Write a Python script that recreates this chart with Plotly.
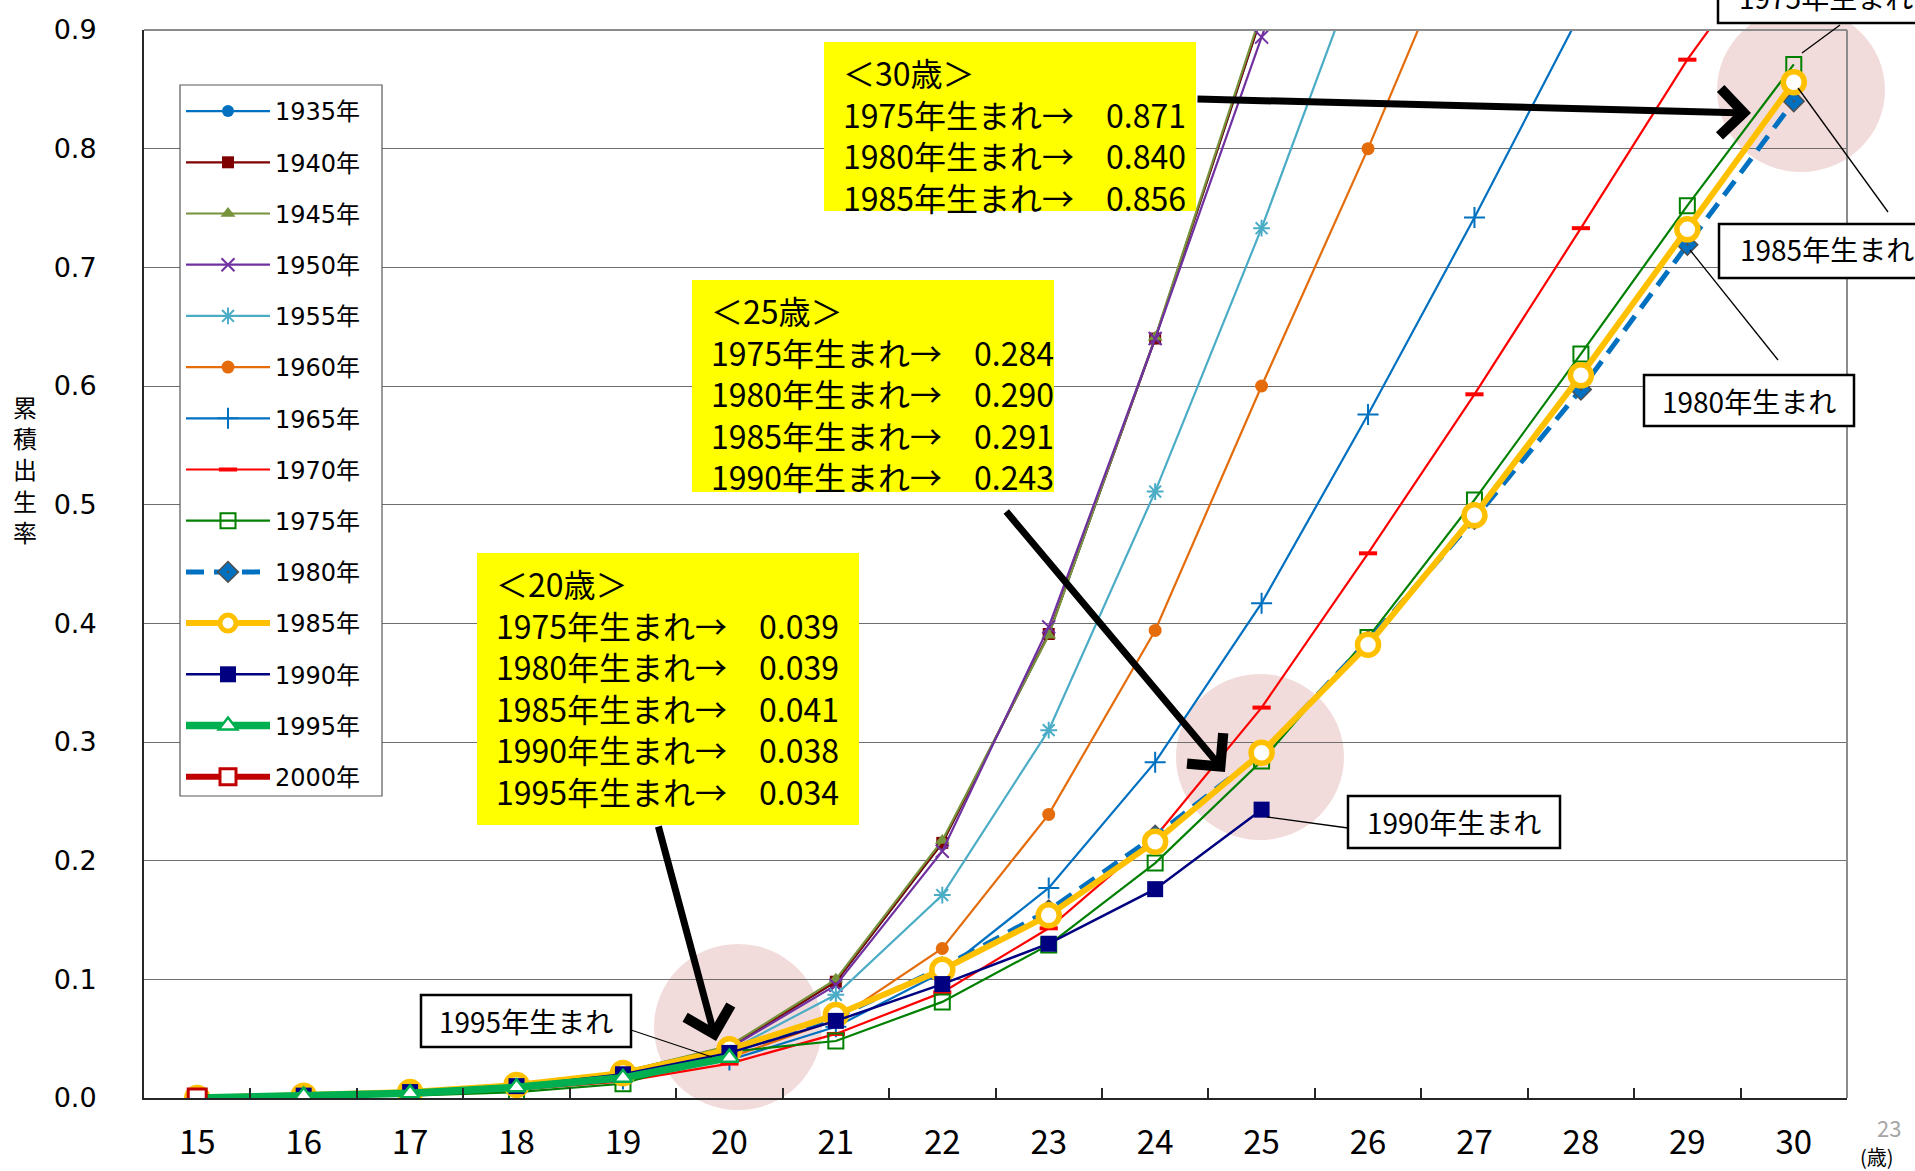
import plotly.graph_objects as go

# ---- data -------------------------------------------------------------
ages = list(range(15, 31))
age_labels = [str(a) for a in ages]
y_ticks = [0.0, 0.1, 0.2, 0.3, 0.4, 0.5, 0.6, 0.7, 0.8, 0.9]

# cumulative birth rate by birth cohort, from age 15 upward
# (points above 0.9 only steer the segment that leaves the plot)
r1935 = [0.000, 0.001, 0.004, 0.010, 0.022, 0.043, 0.098, 0.215, 0.391, 0.640, 0.912, 1.150]
r1940 = [0.000, 0.001, 0.004, 0.010, 0.022, 0.043, 0.098, 0.215, 0.391, 0.640, 0.912, 1.150]
r1945 = [0.000, 0.001, 0.004, 0.010, 0.022, 0.044, 0.100, 0.217, 0.390, 0.641, 0.915, 1.160]
r1950 = [0.000, 0.001, 0.004, 0.010, 0.021, 0.042, 0.095, 0.208, 0.397, 0.640, 0.894, 1.140]
r1955 = [0.000, 0.001, 0.004, 0.009, 0.020, 0.040, 0.087, 0.171, 0.310, 0.511, 0.733, 0.975]
r1960 = [0.000, 0.001, 0.003, 0.008, 0.017, 0.034, 0.066, 0.126, 0.239, 0.394, 0.600, 0.800, 1.013]
r1965 = [0.000, 0.001, 0.003, 0.007, 0.016, 0.032, 0.060, 0.106, 0.177, 0.283, 0.417, 0.576, 0.742, 0.915]
r1970 = [0.000, 0.001, 0.003, 0.007, 0.014, 0.029, 0.054, 0.089, 0.143, 0.220, 0.329, 0.459, 0.593, 0.733, 0.875, 0.999]
r1975 = [0.000, 0.001, 0.002, 0.005, 0.012, 0.039, 0.048, 0.081, 0.129, 0.198, 0.284, 0.388, 0.504, 0.627, 0.752, 0.871]
r1980 = [0.000, 0.001, 0.004, 0.009, 0.019, 0.039, 0.068, 0.110, 0.158, 0.221, 0.290, 0.385, 0.488, 0.597, 0.719, 0.840]
r1985 = [0.000, 0.002, 0.005, 0.011, 0.021, 0.041, 0.070, 0.108, 0.154, 0.216, 0.291, 0.382, 0.491, 0.609, 0.732, 0.856]
r1990 = [0.000, 0.002, 0.005, 0.010, 0.020, 0.038, 0.065, 0.096, 0.130, 0.176, 0.243]
r1995 = [0.000, 0.002, 0.004, 0.009, 0.017, 0.034]
r2000 = [0.000]

cohorts = {
    1935: r1935, 1940: r1940, 1945: r1945, 1950: r1950, 1955: r1955,
    1960: r1960, 1965: r1965, 1970: r1970, 1975: r1975, 1980: r1980,
    1985: r1985, 1990: r1990, 1995: r1995, 2000: r2000,
}

# ---- styles -----------------------------------------------------------
styles = {
    1935: dict(line=dict(color="#0070C0", width=2.2), marker=dict(symbol="circle", size=12, color="#0070C0")),
    1940: dict(line=dict(color="#7F0000", width=2.2), marker=dict(symbol="square", size=12, color="#7F0000")),
    1945: dict(line=dict(color="#77933C", width=2.2), marker=dict(symbol="triangle-up", size=13, color="#77933C")),
    1950: dict(line=dict(color="#7030A0", width=2.2), marker=dict(symbol="x-thin-open", size=13, color="#7030A0", line=dict(color="#7030A0", width=2))),
    1955: dict(line=dict(color="#4BACC6", width=2.2), marker=dict(symbol="asterisk-open", size=14, color="#4BACC6", line=dict(color="#4BACC6", width=2))),
    1960: dict(line=dict(color="#E46C0A", width=2.2), marker=dict(symbol="circle", size=13, color="#E46C0A")),
    1965: dict(line=dict(color="#0070C0", width=2.2), marker=dict(symbol="cross-thin-open", size=15, color="#0070C0", line=dict(color="#0070C0", width=2))),
    1970: dict(line=dict(color="#FF0000", width=2.2), marker=dict(symbol="line-ew-open", size=13, color="#FF0000", line=dict(color="#FF0000", width=4))),
    1975: dict(line=dict(color="#008000", width=2.2), marker=dict(symbol="square-open", size=15, color="#008000", line=dict(color="#008000", width=2))),
    1980: dict(line=dict(color="#0070C0", width=5, dash="18px,10px"), marker=dict(symbol="diamond-dot", size=16, color="#0070C0", line=dict(color="#505050", width=1.5))),
    1985: dict(line=dict(color="#FFC000", width=6), marker=dict(symbol="circle", size=21, color="#FFFFFF", line=dict(color="#FFC000", width=5.5))),
    1990: dict(line=dict(color="#000080", width=2.5), marker=dict(symbol="square", size=16, color="#000080")),
    1995: dict(line=dict(color="#00B050", width=7.5), marker=dict(symbol="triangle-up", size=16, color="#FFFFFF", line=dict(color="#00B050", width=2.5))),
    2000: dict(line=dict(color="#C00000", width=6), marker=dict(symbol="square", size=18, color="#FFFFFF", line=dict(color="#C00000", width=3))),
}

WIDE = "DejaVu Sans, Noto Sans CJK JP, sans-serif"
CJK = "Noto Sans CJK JP, sans-serif"

W, H = 1915, 1171
ML, MT, MR, MB = 144, 30, 68, 73
PW, PH = W - ML - MR, H - MT - MB


def px(x):
    return (x - ML) / PW


def py(y):
    return (MT + PH - y) / PH


fig = go.Figure()
for year, vals in cohorts.items():
    st = styles[year]
    fig.add_trace(go.Scatter(
        x=ages[:len(vals)], y=vals, mode="lines+markers",
        name=f"{year}年", legendgroup=str(year),
        line=st["line"], marker=st["marker"],
    ))


def rate(year, age):
    return cohorts[year][ages.index(age)]


def box_text(age, years):
    rows = [f"＜{age}歳＞"]
    rows += [f"{y}年生まれ→　{rate(y, age):.3f}" for y in years]
    return "<br>".join(rows)


shapes = []
annotations = []

# highlight circles around the compared ages
for (cx, cy, rx, ry) in [(738, 1027, 84, 83), (1260, 757, 84, 83), (1801, 90, 84, 82)]:
    shapes.append(dict(type="circle", xref="paper", yref="paper",
                       x0=px(cx - rx), x1=px(cx + rx), y0=py(cy + ry), y1=py(cy - ry),
                       fillcolor="#F2DCDB", line=dict(width=0), layer="below"))

# frame on the top and right side
shapes.append(dict(type="line", xref="paper", yref="paper", x0=0, x1=1, y0=1, y1=1,
                   line=dict(color="#8C8C8C", width=2), layer="above"))
shapes.append(dict(type="line", xref="paper", yref="paper", x0=1, x1=1, y0=0, y1=1,
                   line=dict(color="#8C8C8C", width=2), layer="above"))

# legend frame
shapes.append(dict(type="rect", xref="paper", yref="paper",
                   x0=px(180), x1=px(382), y0=py(796), y1=py(85),
                   fillcolor="#FFFFFF", line=dict(color="#595959", width=1.2), layer="above"))

# yellow summary boxes
yellow_boxes = [
    ((824, 42, 1196, 211), 30, [1975, 1980, 1985]),
    ((692, 280, 1054, 492), 25, [1975, 1980, 1985, 1990]),
    ((477, 553, 859, 825), 20, [1975, 1980, 1985, 1990, 1995]),
]
for (x0, y0, x1, y1), age, years in yellow_boxes:
    shapes.append(dict(type="rect", xref="paper", yref="paper",
                       x0=px(x0), x1=px(x1), y0=py(y1), y1=py(y0),
                       fillcolor="#FFFF00", line=dict(width=0), layer="above"))
    annotations.append(dict(xref="paper", yref="paper", x=px(x0 + 17), y=py(y0 + 5),
                            xanchor="left", yanchor="top", align="left", showarrow=False,
                            text=box_text(age, years),
                            font=dict(family=CJK, size=32, color="#000000")))

# thick arrows from the summary boxes
for (tx, ty, hx, hy) in [(1196, 99, 1751, 113), (1005, 510, 1225, 772), (658, 825, 716, 1041)]:
    annotations.append(dict(xref="paper", yref="paper", x=px(hx), y=py(hy),
                            ax=tx - hx, ay=ty - hy, axref="pixel", ayref="pixel",
                            showarrow=True, arrowhead=4, arrowsize=1.3, arrowwidth=7,
                            arrowcolor="#000000", text=""))

# cohort callouts
callouts = [
    ("1995年生まれ", (421, 995, 631, 1047), (631, 1030, 712, 1057)),
    ("1990年生まれ", (1348, 796, 1560, 848), (1348, 828, 1267, 817)),
    ("1980年生まれ", (1644, 375, 1854, 426), (1778, 360, 1690, 250)),
    ("1985年生まれ", (1719, 224, 1940, 278), (1888, 212, 1798, 88)),
    ("1975年生まれ", (1718, -40, 1940, 23), (1840, 25, 1802, 53)),
]
for label, (x0, y0, x1, y1), (lx0, ly0, lx1, ly1) in callouts:
    shapes.append(dict(type="line", xref="paper", yref="paper",
                       x0=px(lx0), y0=py(ly0), x1=px(lx1), y1=py(ly1),
                       line=dict(color="#000000", width=1.3), layer="above"))
    shapes.append(dict(type="rect", xref="paper", yref="paper",
                       x0=px(x0), x1=px(x1), y0=py(y1), y1=py(y0),
                       fillcolor="#FFFFFF", line=dict(color="#000000", width=2.5), layer="above"))
    if x1 > W:
        annotations.append(dict(xref="paper", yref="paper", x=px(x0 + 19), y=py((max(y0, -25) + y1) / 2 - 2),
                                xanchor="left", yanchor="middle", showarrow=False, text=label,
                                font=dict(family=CJK, size=28, color="#000000")))
    else:
        annotations.append(dict(xref="paper", yref="paper", x=px((x0 + x1) / 2), y=py((y0 + y1) / 2),
                                xanchor="center", yanchor="middle", showarrow=False, text=label,
                                font=dict(family=CJK, size=28, color="#000000")))

# vertical y-axis title, stacked characters
annotations.append(dict(xref="paper", yref="paper", x=px(25), y=py(469),
                        xanchor="center", yanchor="middle", showarrow=False,
                        text="<br>".join("累積出生率"),
                        font=dict(family=CJK, size=24, color="#000000")))

# unit label and page number
annotations.append(dict(xref="paper", yref="paper", x=px(1877), y=py(1156), xanchor="center", yanchor="middle",
                        showarrow=False, text="(歳)", font=dict(family=CJK, size=20, color="#000000")))
annotations.append(dict(xref="paper", yref="paper", x=px(1889), y=py(1127), xanchor="center", yanchor="middle",
                        showarrow=False, text="23", font=dict(family=CJK, size=22, color="#A6A6A6")))

fig.update_layout(
    width=W, height=H,
    margin=dict(l=ML, r=MR, t=MT, b=MB, autoexpand=False),
    paper_bgcolor="#FFFFFF", plot_bgcolor="rgba(0,0,0,0)",
    shapes=shapes, annotations=annotations,
    showlegend=True,
    legend=dict(x=px(181), y=py(89), xanchor="left", yanchor="top",
                bgcolor="rgba(0,0,0,0)", borderwidth=0,
                font=dict(family=WIDE, size=24, color="#000000"),
                tracegroupgap=17, itemwidth=84),
    xaxis=dict(range=[14.5, 30.5], tickmode="array", tickvals=ages, ticktext=age_labels,
               ticks="", ticklabelstandoff=14, showgrid=False, zeroline=False, automargin=False,
               showline=True, linecolor="#262626", linewidth=2,
               tickfont=dict(family=CJK, size=33, color="#000000"),
               minor=dict(tickmode="array", tickvals=[a + 0.5 for a in ages[:-1]],
                          ticks="inside", ticklen=10, tickcolor="#262626", tickwidth=1.5, showgrid=False)),
    yaxis=dict(range=[0, 0.9], tickmode="array", tickvals=y_ticks, tickformat=".1f",
               ticks="", ticklabelstandoff=40, showgrid=True, gridcolor="#6E6E6E", gridwidth=1.3,
               zeroline=False, showline=True, linecolor="#262626", linewidth=2, automargin=False,
               tickfont=dict(family=WIDE, size=27, color="#000000")),
)

fig.write_html("out.html")
